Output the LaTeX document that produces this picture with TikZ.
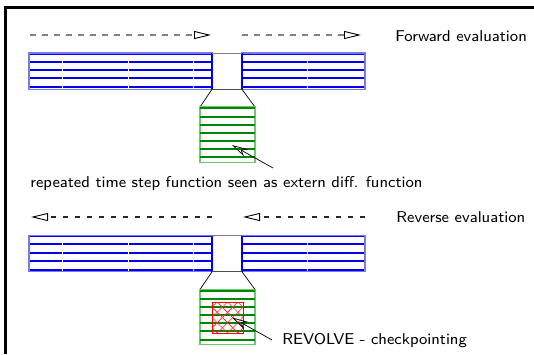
\documentclass[tikz,border=0pt]{standalone}
\usetikzlibrary{arrows.meta}
\definecolor{barblue}{RGB}{0,0,235}
\definecolor{barlight}{RGB}{120,120,245}
\definecolor{fungreen}{RGB}{0,135,0}
\definecolor{funlight}{RGB}{110,200,110}
\tikzset{
  frameline/.style={line width=3pt, black},
  barline/.style={barblue, line width=2pt},
  baredge/.style={barlight, line width=1.2pt},
  gapline/.style={white, line width=1pt},
  funline/.style={fungreen, line width=2pt},
  funedge/.style={funlight, line width=1.2pt},
  linkline/.style={black, line width=0.7pt},
  evalarrow/.style={dash pattern=on 5.5pt off 6.5pt, line width=1.1pt,
    -{Triangle[open, length=17pt, width=8pt, line width=0.9pt, color=black]}},
  pointer/.style={black, line width=0.7pt,
    -{Stealth[open, length=16pt, width=8pt, inset=5pt, line width=0.7pt]}},
  hatchline/.style={red!85, line width=0.6pt},
  label/.style={font=\fontsize{8}{10}\selectfont\sffamily, inner sep=0pt,
    scale=1.96, transform shape}
}
% one tape: blue bar with a gap holding the extern function box
\newcommand{\tapebar}[1]{%
  \begin{scope}[yshift=#1]
    \foreach \yy in {53.5,61.8,70,78.2,87}{
      \draw[barline] (29,\yy) -- (212,\yy);
      \draw[barline] (242,\yy) -- (365,\yy);
    }
    \foreach \xx in {62,128,193,307}{
      \draw[gapline] (\xx,54.5) -- (\xx,88.5);
    }
    \draw[baredge] (29,53) rectangle (212,89.3);
    \draw[baredge] (242,53) rectangle (365,89.3);
    \draw[barblue, line width=1.2pt] (212,53) -- (212,89.3) (242,53) -- (242,89.3);
    \draw[gray, line width=1pt] (212,53) -- (242,53);
    \draw[black!70, line width=1pt] (212,89.3) -- (242,89.3);
    \draw[linkline] (212,89.3) -- (200,107);
    \draw[linkline] (242,89.3) -- (255,107);
    \draw[funedge] (200,107) rectangle (255,162.3);
    \foreach \yy in {108.3,116.5,124.6,132.7,140.8,148.9,157.2}{
      \draw[funline] (200,\yy) -- (255,\yy);
    }
  \end{scope}}
\begin{document}
\begin{tikzpicture}[x=1pt,y=-1pt]
  \useasboundingbox (0,0) rectangle (534,354);
  % frame edges
  \draw[frameline] (5.5,354) -- (5.5,7.5) -- (534,7.5);

  % forward sweep
  \coordinate (f1s) at (30,35);
  \coordinate (f1e) at (211,35);
  \coordinate (f2s) at (242,35);
  \coordinate (f2e) at (361,35);
  \draw[evalarrow, gray] (f1s) -- (f1e);
  \draw[evalarrow, gray] (f2s) -- (f2e);
  \node[label, anchor=west] (fwd) at (395,36) {Forward evaluation};

  \tapebar{0pt}
  \node[label, anchor=west] (rep) at (30,183.5)
    {repeated time step function seen as extern diff. function};
  \coordinate (p1) at (273,168);
  \coordinate (p1t) at (232,145);
  \draw[pointer] (p1) -- (p1t);

  % reverse sweep
  \coordinate (r1s) at (212,217);
  \coordinate (r1e) at (31,217);
  \coordinate (r2s) at (365,217);
  \coordinate (r2e) at (243,217);
  \draw[evalarrow, black!85] (r1s) -- (r1e);
  \draw[evalarrow, black!85] (r2s) -- (r2e);
  \node[label, anchor=west] (rev) at (396,217.5) {Reverse evaluation};

  \tapebar{-182.5pt}

  % checkpointing block with diagonal cross hatching
  \begin{scope}
    \clip (212,302) rectangle (243,333);
    \foreach \k in {-3,...,5}{
      \draw[hatchline] (217.17+10.33*\k,302) -- ++(31,31);
      \draw[hatchline] (217.17+10.33*\k,302) -- ++(-31,31);
    }
  \end{scope}
  \draw[red, line width=1pt] (212,302) rectangle (243,333);
  \node[label, anchor=west] (chk) at (282,340) {REVOLVE - checkpointing};
  \coordinate (p2) at (272,340);
  \coordinate (p2t) at (232,317.5);
  \draw[pointer] (p2) -- (p2t);
\end{tikzpicture}
\end{document}
